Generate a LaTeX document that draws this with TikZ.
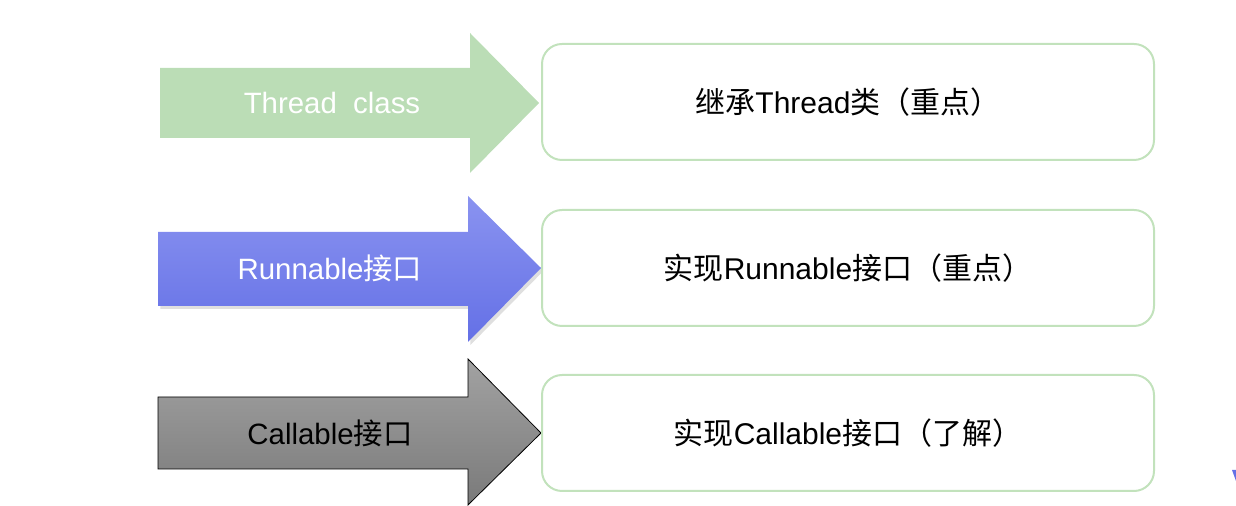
\documentclass[tikz,border=0pt]{standalone}
\usepackage{fontspec}
\setmainfont{Liberation Sans}
\newfontfamily\cjk{Noto Sans CJK SC}
\usetikzlibrary{shadows}
\definecolor{lgreen}{HTML}{BBDDB6}
\definecolor{boxline}{HTML}{C2E2BC}
\definecolor{bluetop}{HTML}{8A93F0}
\definecolor{bluebot}{HTML}{6470E6}
\definecolor{graytop}{HTML}{A2A2A2}
\definecolor{graybot}{HTML}{7A7A7A}
\begin{document}
\begin{tikzpicture}[x=0.5pt,y=-0.5pt,
		waybox/.style={draw=boxline,line width=1pt,rounded corners=10pt,fill=white,
			minimum width=306pt,minimum height=58pt,font=\fontsize{15}{17}\selectfont},
		waytext/.style={font=\fontsize{14.7}{17}\selectfont}]
			\useasboundingbox (0,0) rectangle (1236,506);
			\fill[lgreen] (160,68) -- (470,68) -- (470,33) -- (539,103) -- (470,173) -- (470,138) -- (160,138) -- cycle;
			\path[drop shadow={opacity=0.25,shadow xshift=1.2pt,shadow yshift=-1.5pt},top color=bluetop,bottom color=bluebot]
				(158,232) -- (468,232) -- (468,196) -- (541,268) -- (468,342) -- (468,306) -- (158,306) -- cycle;
			\draw[line width=0.4pt,top color=graytop,bottom color=graybot]
				(158,397) -- (468,397) -- (468,359) -- (541,433) -- (468,505) -- (468,469) -- (158,469) -- cycle;
			\fill[bluebot] (1232,470) -- (1236,470) -- (1236,481) -- cycle;
			\node[waytext,text=white] (thr) at (332,103) {Thread~~class};
			\node[waytext,text=white] (run) at (330,268) {Runnable{\cjk 接口}};
			\node[waytext] (cal) at (330,433) {Callable{\cjk 接口}};
			\node[waybox] (thrbox) at (848,102) {{\cjk 继承}Thread{\cjk 类（重点）}};
			\node[waybox] (runbox) at (848,268) {{\cjk 实现}Runnable{\cjk 接口（重点）}};
			\node[waybox] (calbox) at (848,433) {{\cjk 实现}Callable{\cjk 接口（了解）}};
		\end{tikzpicture}
\end{document}
